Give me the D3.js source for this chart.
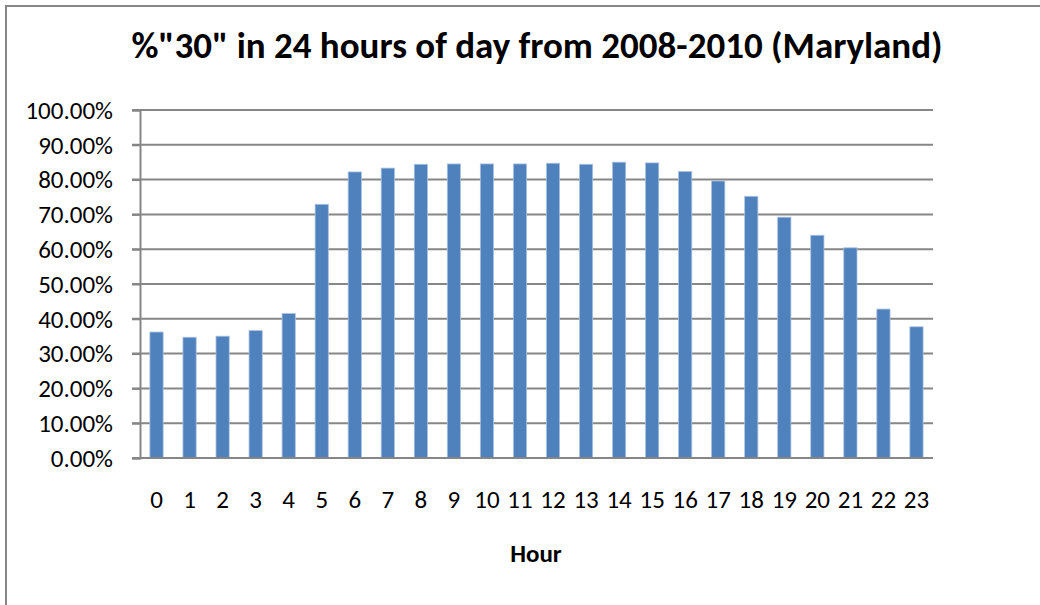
<!DOCTYPE html>
<html lang="en">
<head>
<meta charset="utf-8">
<title>%"30" in 24 hours of day</title>
<script src="https://d3js.org/d3.v7.min.js"></script>
<style>
  body { margin: 0; background: #fff; }
  svg text { font-family: Carlito, "Liberation Sans Narrow", "Open Sans", sans-serif; fill: #000; }
  .grid line { stroke: #868686; stroke-width: 2; }
  .bar { fill: #4f81bd; stroke: #a9c1df; stroke-width: 0.8; }
</style>
</head>
<body>
<script>
// hours on the x axis
var hours = ["0","1","2","3","4","5","6","7","8","9","10","11","12","13","14","15","16","17","18","19","20","21","22","23"];
// share of "30" per hour (fraction)
var share = [0.362, 0.347, 0.350, 0.366, 0.415, 0.729, 0.822, 0.833, 0.844, 0.845, 0.845, 0.845,
             0.847, 0.844, 0.850, 0.848, 0.823, 0.796, 0.752, 0.692, 0.640, 0.604, 0.428, 0.377];
var yTicks = [0, 0.1, 0.2, 0.3, 0.4, 0.5, 0.6, 0.7, 0.8, 0.9, 1.0];

var W = 1040, H = 605;
var margin = {left: 140, right: 107, top: 110, bottom: 147};

var svg = d3.select("body").append("svg").attr("width", W).attr("height", H);

// chart border (only top/left visible in the frame)
svg.append("rect")
    .attr("x", 6).attr("y", 6)
    .attr("width", W).attr("height", H)
    .attr("fill", "none").attr("stroke", "#868686").attr("stroke-width", 2);

var x = d3.scaleBand().domain(hours).range([margin.left, W - margin.right]).paddingInner(0.6).paddingOuter(0.3);
var y = d3.scaleLinear().domain([0, 1]).range([H - margin.bottom, margin.top]);

// gridlines
svg.append("g").attr("class", "grid")
    .selectAll("line").data(yTicks).enter().append("line")
    .attr("x1", margin.left - 8).attr("x2", W - margin.right)
    .attr("y1", function(d) { return y(d); }).attr("y2", function(d) { return y(d); });

// bars
svg.selectAll(".bar").data(share).enter().append("rect")
    .attr("class", "bar")
    .attr("x", function(d, i) { return x(hours[i]); })
    .attr("width", x.bandwidth())
    .attr("y", function(d) { return y(d); })
    .attr("height", function(d) { return y(0) - y(d); });

// y axis
var yAxis = svg.append("g")
    .attr("transform", "translate(" + margin.left + ",0)")
    .call(d3.axisLeft(y).tickValues(yTicks).tickSize(8).tickPadding(19).tickFormat(d3.format(".2%")));
yAxis.select(".domain").attr("stroke", "#868686").attr("stroke-width", 2);
yAxis.selectAll(".tick line").attr("stroke", "#868686").attr("stroke-width", 2);
yAxis.selectAll("text").style("font-size", "25px").attr("dy", "0.33em");

// x axis
var xAxis = svg.append("g")
    .attr("transform", "translate(0," + y(0) + ")")
    .call(d3.axisBottom(x).tickSize(0));
xAxis.select(".domain").attr("stroke", "#868686").attr("stroke-width", 2)
    .attr("d", "M" + margin.left + ",0H" + (W - margin.right));
xAxis.selectAll("text").style("font-size", "25px").attr("y", 50).attr("dy", "0");

// title
svg.append("text")
    .attr("x", 537).attr("y", 58)
    .attr("text-anchor", "middle")
    .style("font-size", "37px").style("font-weight", "bold")
    .text('%"30" in 24 hours of day from 2008-2010 (Maryland)');

// x axis title
svg.append("text")
    .attr("x", 536).attr("y", 562)
    .attr("text-anchor", "middle")
    .style("font-size", "25px").style("font-weight", "bold")
    .text("Hour");
</script>
</body>
</html>
